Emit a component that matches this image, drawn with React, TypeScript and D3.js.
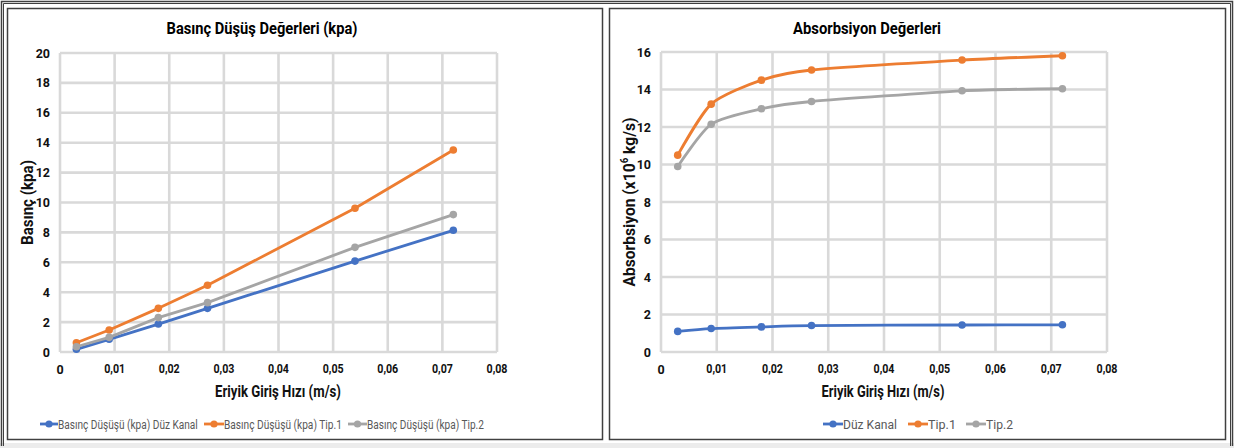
import React, { useLayoutEffect, useRef, useState } from "react";
import * as d3 from "d3";

const xValues = [0.003, 0.009, 0.018, 0.027, 0.054, 0.072];
const xTicks = [0, 0.01, 0.02, 0.03, 0.04, 0.05, 0.06, 0.07, 0.08];

const pressureDuz = [0.18, 0.85, 1.87, 2.92, 6.08, 8.14];
const pressureTip1 = [0.62, 1.47, 2.92, 4.46, 9.62, 13.51];
const pressureTip2 = [0.35, 0.98, 2.3, 3.3, 7.0, 9.19];
const pressureTicks = [0, 2, 4, 6, 8, 10, 12, 14, 16, 18, 20];
const pressureLegend = [
  "Basınç Düşüşü (kpa) Düz Kanal",
  "Basınç Düşüşü (kpa) Tip.1",
  "Basınç Düşüşü (kpa) Tip.2",
];

const absDuz = [1.1, 1.25, 1.34, 1.41, 1.44, 1.45];
const absTip1 = [10.5, 13.22, 14.5, 15.04, 15.57, 15.8];
const absTip2 = [9.89, 12.15, 12.97, 13.36, 13.93, 14.04];
const absTicks = [0, 2, 4, 6, 8, 10, 12, 14, 16];
const absLegend = ["Düz Kanal", "Tip.1", "Tip.2"];

const colors = ["#4472C4", "#ED7D31", "#A5A5A5"];
const FONT = "Roboto, 'Open Sans', sans-serif";

type FitProps = {
  x: number;
  y: number;
  w: number;
  rotate?: number;
  anchor?: "start" | "middle" | "end";
  fontSize: number;
  fontWeight?: number;
  fill: string;
  children: React.ReactNode;
};

function FitText(p: FitProps) {
  const ref = useRef<SVGTextElement>(null);
  const [s, setS] = useState(1);
  useLayoutEffect(() => {
    const n = ref.current;
    if (n) {
      const bw = n.getComputedTextLength();
      if (bw > 0) setS(p.w / bw);
    }
  }, [p.w]);
  return (
    <text
      ref={ref}
      transform={`translate(${p.x},${p.y}) rotate(${p.rotate || 0}) scale(${s},1)`}
      textAnchor={p.anchor || "start"}
      dominantBaseline="central"
      fontFamily={FONT}
      fontWeight={p.fontWeight || 400}
      fontSize={p.fontSize}
      fill={p.fill}
    >
      {p.children}
    </text>
  );
}

type LegendPos = { lineX: number; textX: number; textW: number };

type ChartProps = {
  panelX: number;
  panelW: number;
  plot: { x0: number; x1: number; y0: number; y1: number };
  title: string;
  titleX: number;
  titleW: number;
  yTitle: React.ReactNode;
  yTitleX: number;
  yTitleW: number;
  xTitleX: number;
  xTitleW: number;
  yMax: number;
  yTicks: number[];
  series: number[][];
  legend: string[];
  legendPos: LegendPos[];
  smooth: boolean;
};

function Chart(p: ChartProps) {
  const x = d3.scaleLinear().domain([0, 0.08]).range([p.plot.x0, p.plot.x1]);
  const y = d3.scaleLinear().domain([0, p.yMax]).range([p.plot.y1, p.plot.y0]);
  const line = d3
    .line<number>()
    .x((_, i) => x(xValues[i]))
    .y((v) => y(v))
    .curve(p.smooth ? d3.curveCardinal.tension(0.3) : d3.curveLinear);
  const fmt = (v: number) => (v === 0 ? "0" : v.toFixed(2).replace(".", ","));
  const yTitleCenter = (p.plot.y0 + p.plot.y1) / 2;
  return (
    <g>
      <rect x={p.panelX + 0.5} y={8.5} width={p.panelW} height={431} fill="#fff" stroke="#404040" strokeWidth={1.5} />
      <FitText x={p.titleX} y={28} w={p.titleW} anchor="middle" fontSize={17} fontWeight={700} fill="#000">
        {p.title}
      </FitText>
      {/* grid */}
      {p.yTicks.map((t) => (
        <line key={"h" + t} x1={p.plot.x0} x2={p.plot.x1} y1={y(t)} y2={y(t)} stroke="#d9d9d9" strokeWidth={2.6} />
      ))}
      {xTicks.map((t) => (
        <line key={"v" + t} x1={x(t)} x2={x(t)} y1={p.plot.y0} y2={p.plot.y1} stroke="#d9d9d9" strokeWidth={2.6} />
      ))}
      {/* tick labels */}
      {p.yTicks.map((t) => (
        <text
          key={"yl" + t}
          x={p.plot.x0 - 10}
          y={y(t)}
          textAnchor="end"
          dominantBaseline="central"
          fontFamily={FONT}
          fontWeight={700}
          fontSize={12.5}
          fill="#111"
        >
          {t}
        </text>
      ))}
      {xTicks.map((t) =>
        t === 0 ? (
          <text
            key={"xl" + t}
            x={x(t)}
            y={p.plot.y1 + 17}
            textAnchor="middle"
            dominantBaseline="central"
            fontFamily={FONT}
            fontWeight={700}
            fontSize={12.5}
            fill="#111"
          >
            {fmt(t)}
          </text>
        ) : (
          <FitText key={"xl" + t} x={x(t)} y={p.plot.y1 + 17} w={21} anchor="middle" fontSize={12.5} fontWeight={700} fill="#111">
            {fmt(t)}
          </FitText>
        )
      )}
      {/* axis titles */}
      <FitText x={p.xTitleX} y={392} w={p.xTitleW} anchor="middle" fontSize={16} fontWeight={700} fill="#111">
        Eriyik Giriş Hızı (m/s)
      </FitText>
      <FitText x={p.yTitleX} y={yTitleCenter} w={p.yTitleW} rotate={-90} anchor="middle" fontSize={16} fontWeight={700} fill="#111">
        {p.yTitle}
      </FitText>
      {/* series */}
      {p.series.map((s, si) => (
        <g key={"s" + si}>
          <path d={line(s) || ""} fill="none" stroke={colors[si]} strokeWidth={2.8} strokeLinejoin="round" strokeLinecap="round" />
          {s.map((v, i) => (
            <circle key={i} cx={x(xValues[i])} cy={y(v)} r={3.8} fill={colors[si]} />
          ))}
        </g>
      ))}
      {/* legend */}
      {p.legend.map((name, i) => {
        const lp = p.legendPos[i];
        return (
          <g key={"lg" + i}>
            <line x1={lp.lineX} x2={lp.textX} y1={424} y2={424} stroke={colors[i]} strokeWidth={2.8} />
            <circle cx={(lp.lineX + lp.textX) / 2} cy={424} r={3.6} fill={colors[i]} />
            <FitText x={lp.textX} y={424} w={lp.textW} fontSize={13.5} fill="#595959">
              {name}
            </FitText>
          </g>
        );
      })}
    </g>
  );
}

export default function App() {
  return (
    <svg
      width={1234}
      height={448}
      style={{ position: "fixed", left: 0, top: 0, display: "block", background: "#fff" }}
    >
      <rect x={0} y={0} width={1234} height={448} fill="#fff" />
      <rect x={0} y={443} width={1234} height={5} fill="#ececec" />
      {/* outer frame */}
      <path d="M1.5,446 V1.5 H1232.5 V446" fill="none" stroke="#404040" strokeWidth={1.5} />
      <path d="M3.5,446 V3.5 H1230.5 V446" fill="none" stroke="#404040" strokeWidth={1} />
      <Chart
        panelX={7}
        panelW={595}
        plot={{ x0: 60, x1: 497, y0: 53, y1: 352 }}
        title="Basınç Düşüş Değerleri (kpa)"
        titleX={262}
        titleW={191}
        yTitle="Basınç (kpa)"
        yTitleX={28}
        yTitleW={85}
        xTitleX={278}
        xTitleW={126}
        yMax={20}
        yTicks={pressureTicks}
        series={[pressureDuz, pressureTip1, pressureTip2]}
        legend={pressureLegend}
        legendPos={[
          { lineX: 40, textX: 58, textW: 140 },
          { lineX: 204, textX: 224, textW: 118 },
          { lineX: 348, textX: 367, textW: 117 },
        ]}
        smooth={false}
      />
      <Chart
        panelX={609}
        panelW={616}
        plot={{ x0: 661, x1: 1107, y0: 52, y1: 352 }}
        title="Absorbsiyon Değerleri"
        titleX={867}
        titleW={148}
        yTitle={
          <>
            Absorbsiyon (x10
            <tspan fontSize={10} dy={-5}>6</tspan>
            <tspan dy={5}> kg/s)</tspan>
          </>
        }
        yTitleX={629}
        yTitleW={169}
        xTitleX={883}
        xTitleW={123}
        yMax={16}
        yTicks={absTicks}
        series={[absDuz, absTip1, absTip2]}
        legend={absLegend}
        legendPos={[
          { lineX: 823, textX: 843, textW: 54 },
          { lineX: 908, textX: 928, textW: 28 },
          { lineX: 966, textX: 986, textW: 27 },
        ]}
        smooth={true}
      />
    </svg>
  );
}
